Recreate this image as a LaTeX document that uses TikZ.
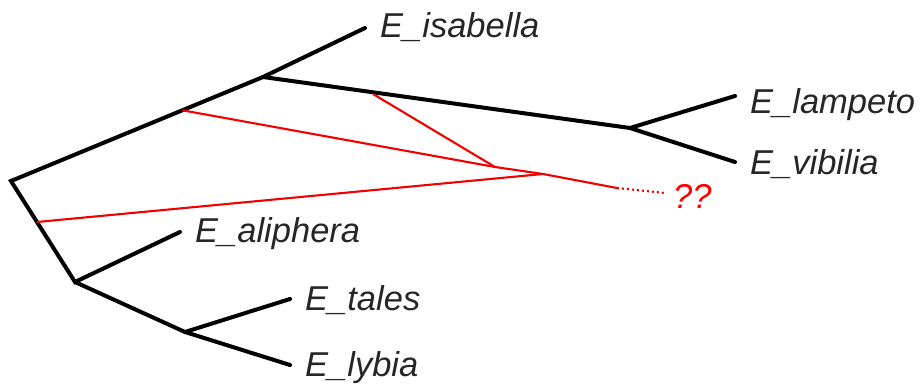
\documentclass[tikz,border=0pt]{standalone}
\usepackage{fontspec}
\setmainfont{Liberation Sans}
\usetikzlibrary{calc}
\begin{document}
\begin{tikzpicture}[x=1pt,y=-1pt,
  branch/.style={line width=4pt, black, line cap=round},
  hyb/.style={line width=2.1pt, red!95!black},
  hybdot/.style={line width=2.1pt, red!95!black, dash pattern=on 2pt off 3pt},
  taxon/.style={font=\fontsize{34.5}{40}\selectfont\itshape, text=black!85, anchor=base west, inner sep=0pt}]
\useasboundingbox (0,0) rectangle (922,385);
% internal nodes
\coordinate (root) at (11,181);
\coordinate (up) at (263,77);
\coordinate (ur) at (630,128);
\coordinate (lo) at (75,282);
\coordinate (lr) at (185,332);
% tips
\coordinate (tisa) at (365,28);
\coordinate (tlam) at (735,96);
\coordinate (tvib) at (735,162);
\coordinate (tali) at (180,232);
\coordinate (ttal) at (290,299);
\coordinate (tlyb) at (290,365);
% labels
\node[taxon] (isa) at (380,38) {E\_isabella};
\node[taxon] (lam) at (750,114) {E\_lampeto};
\node[taxon] (vib) at (750,175) {E\_vibilia};
\node[taxon] (ali) at (195,243) {E\_aliphera};
\node[taxon] (tal) at (305,310) {E\_tales};
\node[taxon] (lyb) at (305,376) {E\_lybia};
\node[font=\fontsize{34.5}{40}\selectfont\itshape, text=red, anchor=base west, inner sep=0pt] (qq) at (673,209) {??};
% tree
\draw[branch] (tisa) -- (up) -- (root) -- (lo) -- (tali);
\draw[branch] (up) -- (ur) -- (tlam);
\draw[branch] (ur) -- (tvib);
\draw[branch] (lo) -- (lr) -- (ttal);
\draw[branch] (lr) -- (tlyb);
% hybrid lines
\coordinate (h1) at ($(root)!0.68!(up)$);
\coordinate (h2) at (373,94);
\coordinate (h3) at (37,222);
\coordinate (j1) at (495,167);
\coordinate (j2) at (543,174);
\coordinate (e1) at (617,188);
\coordinate (e2) at (665,193);
\draw[hyb] (h1) -- (j1);
\draw[hyb] (h2) -- (j1);
\draw[hyb] (j1) -- (j2);
\draw[hyb] (h3) -- (j2) -- (e1);
\draw[hybdot] (e1) -- (e2);
\end{tikzpicture}
\end{document}
